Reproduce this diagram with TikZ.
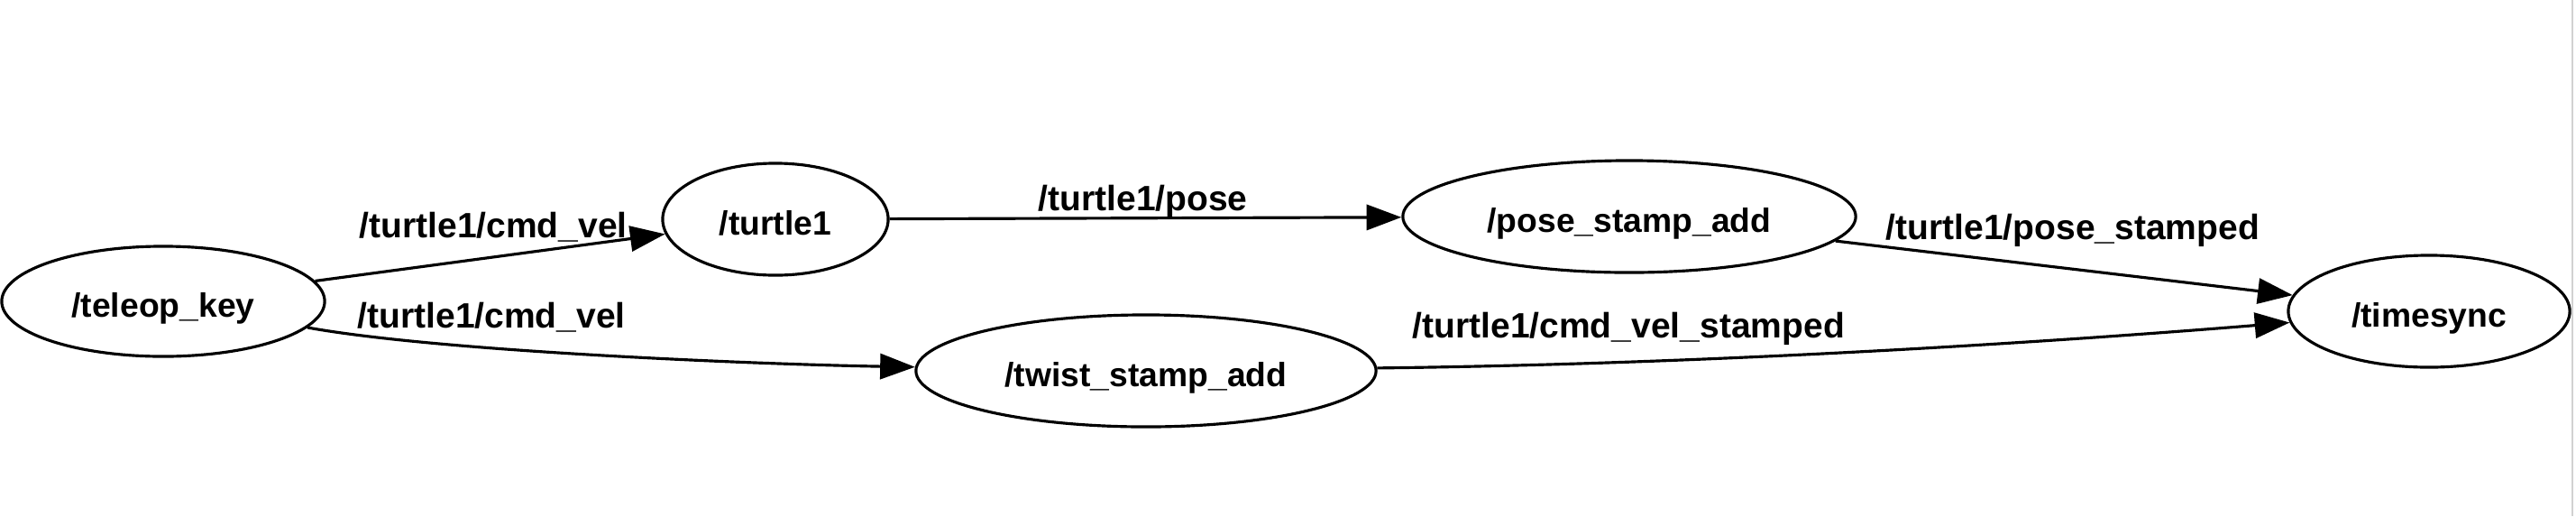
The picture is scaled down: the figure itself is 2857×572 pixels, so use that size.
\documentclass[tikz,border=0pt]{standalone}
\usepackage{fontspec}
\setmainfont{Liberation Sans}
\usetikzlibrary{arrows.meta,shapes.geometric}

\begin{document}
\begin{tikzpicture}[x=0.01cm,y=-0.01cm,line width=.9pt,>={Triangle[length=11pt,width=8pt]},
  rosnode/.style={draw,ellipse,inner sep=0pt,text height=.34cm,text depth=0pt,
    font=\fontsize{10.6}{12}\selectfont\bfseries},
  topic/.style={anchor=base west,inner sep=0pt,font=\fontsize{11.1}{13}\selectfont\bfseries}]
  \useasboundingbox (0,0) rectangle (2857,572);
  \draw[gray!35,line width=.6pt] (2853,0) -- (2853,572);

  \node[rosnode,minimum width=3.58cm,minimum height=1.22cm] (teleop) at (181,334) {/teleop\_key};
  \node[rosnode,minimum width=2.5cm,minimum height=1.24cm] (turtle) at (860,243) {/turtle1};
  \node[rosnode,minimum width=5.02cm,minimum height=1.24cm] (posestamp) at (1807,240) {/pose\_stamp\_add};
  \node[rosnode,minimum width=5.1cm,minimum height=1.24cm] (twiststamp) at (1271,411) {/twist\_stamp\_add};
  \node[rosnode,minimum width=3.12cm,minimum height=1.24cm] (timesync) at (2694,345) {/timesync};

  \draw[->] (teleop) -- (turtle);
  \node[topic] (cmdvelA) at (397,263) {/turtle1/cmd\_vel};
  \draw[->] (teleop) .. controls (490,390) and (850,404) .. (twiststamp);
  \node[topic] (cmdvelB) at (395,363) {/turtle1/cmd\_vel};
  \draw[->] (turtle) -- (posestamp);
  \node[topic] (pose) at (1150,233) {/turtle1/pose};
  \draw[->] (posestamp) -- (timesync);
  \node[topic] (posestamped) at (2090,265) {/turtle1/pose\_stamped};
  \draw[->] (twiststamp) .. controls (1850,404) and (2200,385) .. (timesync);
  \node[topic] (cmdvelstamped) at (1565,374) {/turtle1/cmd\_vel\_stamped};
\end{tikzpicture}
\end{document}
